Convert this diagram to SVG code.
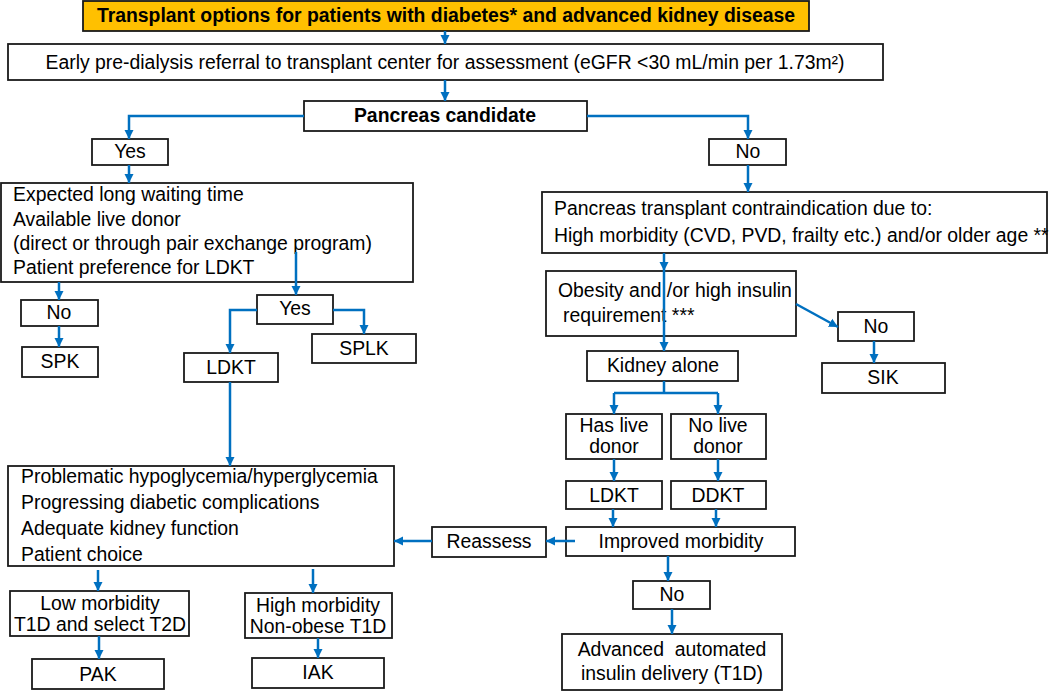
<svg xmlns="http://www.w3.org/2000/svg" width="1050" height="692" viewBox="0 0 1050 692">
<style>
.box{fill:#fff;stroke:#1a1a1a;stroke-width:1.8}
.title{fill:#FFC000;stroke:#1a1a1a;stroke-width:1.8}
text{font-family:"Liberation Sans",Arial,sans-serif;font-size:19.4px;fill:#000;white-space:pre}
.c{text-anchor:middle}
.b{font-weight:bold}
.con path{fill:none;stroke:#0070C0;stroke-width:2.5;marker-end:url(#ah)}
.con path.nm{marker-end:none}
</style>
<defs>
<marker id="ah" markerUnits="userSpaceOnUse" markerWidth="10" markerHeight="10" refX="9" refY="5" orient="auto">
<path d="M0,0.5 L9,5 L0,9.5 z" fill="#0070C0"/>
</marker>
</defs>
<rect width="1050" height="692" fill="#fff"/>
<g id="title"><rect class="title" x="83" y="1" width="726" height="30"/><text class="c b" x="446" y="22">Transplant options for patients with diabetes* and advanced kidney disease</text></g>
<g id="referral"><rect class="box" x="8" y="44" width="875" height="36"/><text class="c" x="445" y="69">Early pre-dialysis referral to transplant center for assessment (eGFR &lt;30 mL/min per 1.73m²)</text></g>
<g id="pancreas"><rect class="box" x="304" y="101" width="283" height="30"/><text class="c b" x="445" y="122">Pancreas candidate</text></g>
<g id="yes1"><rect class="box" x="92" y="139" width="76" height="26"/><text class="c" x="130" y="158">Yes</text></g>
<g id="no1"><rect class="box" x="709" y="139" width="77" height="26"/><text class="c" x="748" y="158">No</text></g>
<g id="waiting"><rect class="box" x="1" y="183" width="412" height="99"/>
<text x="13" y="201">Expected long waiting time</text>
<text x="13" y="226">Available live donor</text>
<text x="13" y="250">(direct or through pair exchange program)</text>
<text x="13" y="274">Patient preference for LDKT</text></g>
<g id="contra"><rect class="box" x="542" y="192" width="505" height="61"/>
<text x="554" y="215">Pancreas transplant contraindication due to:</text>
<text x="554" y="242">High morbidity (CVD, PVD, frailty etc.) and/or older age **</text></g>
<g id="no2"><rect class="box" x="21" y="300" width="77" height="26"/><text class="c" x="59" y="319">No</text></g>
<g id="spk"><rect class="box" x="22" y="347" width="76" height="30"/><text class="c" x="60" y="368">SPK</text></g>
<g id="yes2"><rect class="box" x="257" y="295" width="76" height="29"/><text class="c" x="295" y="315">Yes</text></g>
<g id="ldkt1"><rect class="box" x="184" y="353" width="94" height="29"/><text class="c" x="231" y="374">LDKT</text></g>
<g id="splk"><rect class="box" x="312" y="334" width="104" height="29"/><text class="c" x="364" y="355">SPLK</text></g>
<g id="obesity"><rect class="box" x="546" y="271" width="250" height="65"/>
<text x="558" y="297">Obesity and /or high insulin</text>
<text x="563" y="322">requirement ***</text></g>
<g id="no3"><rect class="box" x="838" y="312" width="76" height="29"/><text class="c" x="876" y="333">No</text></g>
<g id="sik"><rect class="box" x="822" y="363" width="123" height="30"/><text class="c" x="883" y="384">SIK</text></g>
<g id="kidney"><rect class="box" x="587" y="351" width="151" height="30"/><text class="c" x="663" y="372">Kidney alone</text></g>
<g id="haslive"><rect class="box" x="566" y="414" width="96" height="45"/><text class="c" x="614" y="432">Has live</text><text class="c" x="614" y="453">donor</text></g>
<g id="nolive"><rect class="box" x="671" y="414" width="95" height="45"/><text class="c" x="718" y="432">No live</text><text class="c" x="718" y="453">donor</text></g>
<g id="ldkt2"><rect class="box" x="566" y="481" width="96" height="28"/><text class="c" x="614" y="502">LDKT</text></g>
<g id="ddkt"><rect class="box" x="671" y="481" width="95" height="28"/><text class="c" x="718" y="502">DDKT</text></g>
<g id="problem"><rect class="box" x="8" y="466" width="386" height="100"/>
<text x="21" y="483">Problematic hypoglycemia/hyperglycemia</text>
<text x="21" y="509">Progressing diabetic complications</text>
<text x="21" y="535">Adequate kidney function</text>
<text x="21" y="561">Patient choice</text></g>
<g id="reassess"><rect class="box" x="432" y="527" width="114" height="30"/><text class="c" x="489" y="548">Reassess</text></g>
<g id="improved"><rect class="box" x="566" y="527" width="229" height="29"/><text class="c" x="681" y="548">Improved morbidity</text></g>
<g id="no4"><rect class="box" x="633" y="581" width="77" height="28"/><text class="c" x="672" y="601">No</text></g>
<g id="advanced"><rect class="box" x="562" y="634" width="220" height="56"/><text class="c" x="672" y="656">Advanced  automated</text><text class="c" x="672" y="680">insulin delivery (T1D)</text></g>
<g id="low"><rect class="box" x="10" y="591" width="179" height="45"/><text class="c" x="100" y="610">Low morbidity</text><text class="c" x="100" y="631">T1D and select T2D</text></g>
<g id="high"><rect class="box" x="245" y="593" width="147" height="45"/><text class="c" x="318" y="612">High morbidity</text><text class="c" x="318" y="633">Non-obese T1D</text></g>
<g id="pak"><rect class="box" x="32" y="659" width="132" height="30"/><text class="c" x="98" y="681">PAK</text></g>
<g id="iak"><rect class="box" x="252" y="658" width="132" height="30"/><text class="c" x="318" y="679">IAK</text></g>
<g id="connectors" class="con">
<path d="M445,31 V44"/>
<path d="M445,80 V101"/>
<path d="M304,116 H129 V139"/>
<path d="M587,116 H748 V139"/>
<path d="M129,165 V183"/>
<path d="M748,165 V192"/>
<path d="M59,282 V300"/>
<path d="M59,326 V347"/>
<path d="M296,252 V295"/>
<path d="M257,310 H230 V353"/>
<path d="M333,310 H364 V334"/>
<path d="M230,382 V466"/>
<path d="M98,570 V591"/>
<path d="M313,569 V593"/>
<path d="M99,636 V659"/>
<path d="M318,638 V658"/>
<path d="M432,541 H394"/>
<path d="M575,541 H546"/>
<path d="M664,253 V271"/>
<path d="M664,271 V351"/>
<path d="M796,304 L838,327"/>
<path d="M874,341 V363"/>
<path class="nm" d="M664,381 V393 M614,393 H718"/>
<path d="M614,393 V414"/>
<path d="M718,393 V414"/>
<path d="M614,459 V481"/>
<path d="M718,459 V481"/>
<path d="M613,509 V527"/>
<path d="M716,509 V527"/>
<path d="M668,556 V581"/>
<path d="M672,609 V634"/>
</g>
</svg>
